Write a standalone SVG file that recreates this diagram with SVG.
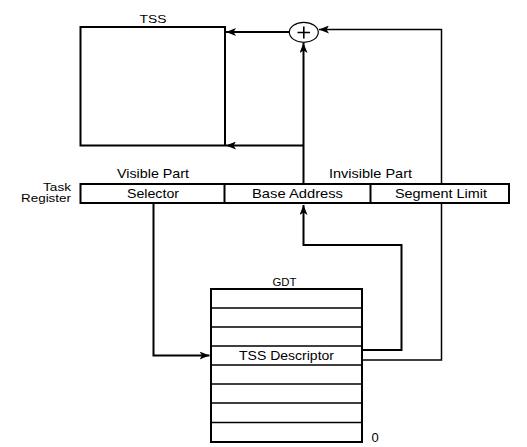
<svg xmlns="http://www.w3.org/2000/svg" width="527" height="447" viewBox="0 0 527 447">
<style>
text{font-family:"Liberation Sans",Arial,sans-serif;font-size:13px;fill:#000}
.sm{font-size:10.5px}
.box{fill:#fff;stroke:#000;stroke-width:2}
.row{stroke:#000;stroke-width:1.6;fill:none}
.c{fill:none;stroke:#000;stroke-width:2}
.thin{fill:none;stroke:#000;stroke-width:1.5}
</style>
<defs>
<marker id="ah" markerUnits="userSpaceOnUse" markerWidth="10" markerHeight="8" refX="10" refY="4" orient="auto">
<path d="M0,0 L10,4 L0,8 L2.5,4 z" fill="#000"/>
</marker>
</defs>
<rect width="527" height="447" fill="#fff"/>
<g id="connectors">
<path class="c" d="M289,32 L226,32" marker-end="url(#ah)"/>
<path class="c" d="M303.5,184 L303.5,43" marker-end="url(#ah)"/>
<path class="c" d="M303.5,145.5 L226,145.5" marker-end="url(#ah)"/>
<path class="thin" d="M362,360 L441.5,360 L441.5,29.5 L319,29.5" marker-end="url(#ah)"/>
<path class="c" d="M362,350 L401.5,350 L401.5,245 L303.5,245 L303.5,205" marker-end="url(#ah)"/>
<path class="c" d="M153.5,203 L153.5,355.5 L209.5,355.5" marker-end="url(#ah)"/>
</g>
<g id="tss">
<rect class="box" x="80.5" y="27" width="144.5" height="118.5" fill="none"/>
<text class="sm" x="153" y="23" text-anchor="middle" textLength="27" lengthAdjust="spacingAndGlyphs">TSS</text>
</g>
<g id="adder">
<ellipse cx="303.8" cy="32.3" rx="14.5" ry="10" fill="#fff" stroke="#000" stroke-width="1.2"/>
<path d="M297.5,32.5 H310 M303.8,26.5 V38.5" stroke="#000" stroke-width="1.6" fill="none"/>
</g>
<g id="task-register">
<text class="sm" x="71" y="190.5" text-anchor="end" textLength="28" lengthAdjust="spacingAndGlyphs">Task</text>
<text class="sm" x="71" y="201.5" text-anchor="end" textLength="50" lengthAdjust="spacingAndGlyphs">Register</text>
<text x="153" y="178" text-anchor="middle" textLength="72" lengthAdjust="spacingAndGlyphs">Visible Part</text>
<text x="370.5" y="178" text-anchor="middle" textLength="83" lengthAdjust="spacingAndGlyphs">Invisible Part</text>
<rect class="box" x="80.5" y="184" width="428.5" height="19"/>
<line class="c" x1="224.5" y1="184" x2="224.5" y2="203"/>
<line class="c" x1="370.5" y1="184" x2="370.5" y2="203"/>
<text x="153" y="198" text-anchor="middle" textLength="52" lengthAdjust="spacingAndGlyphs">Selector</text>
<text x="297.5" y="198" text-anchor="middle" textLength="91" lengthAdjust="spacingAndGlyphs">Base Address</text>
<text x="441" y="198" text-anchor="middle" textLength="92" lengthAdjust="spacingAndGlyphs">Segment Limit</text>
</g>
<g id="gdt">
<text class="sm" x="284.5" y="285.5" text-anchor="middle" textLength="24" lengthAdjust="spacingAndGlyphs">GDT</text>
<rect class="box" x="211" y="289" width="151" height="153"/>
<path class="row" d="M211,308 H362 M211,327 H362 M211,346 H362 M211,365 H362 M211,384 H362 M211,403 H362 M211,422.5 H362"/>
<text x="286.5" y="360" text-anchor="middle" textLength="95" lengthAdjust="spacingAndGlyphs">TSS Descriptor</text>
<text x="375" y="442" text-anchor="middle">0</text>
</g>
</svg>
